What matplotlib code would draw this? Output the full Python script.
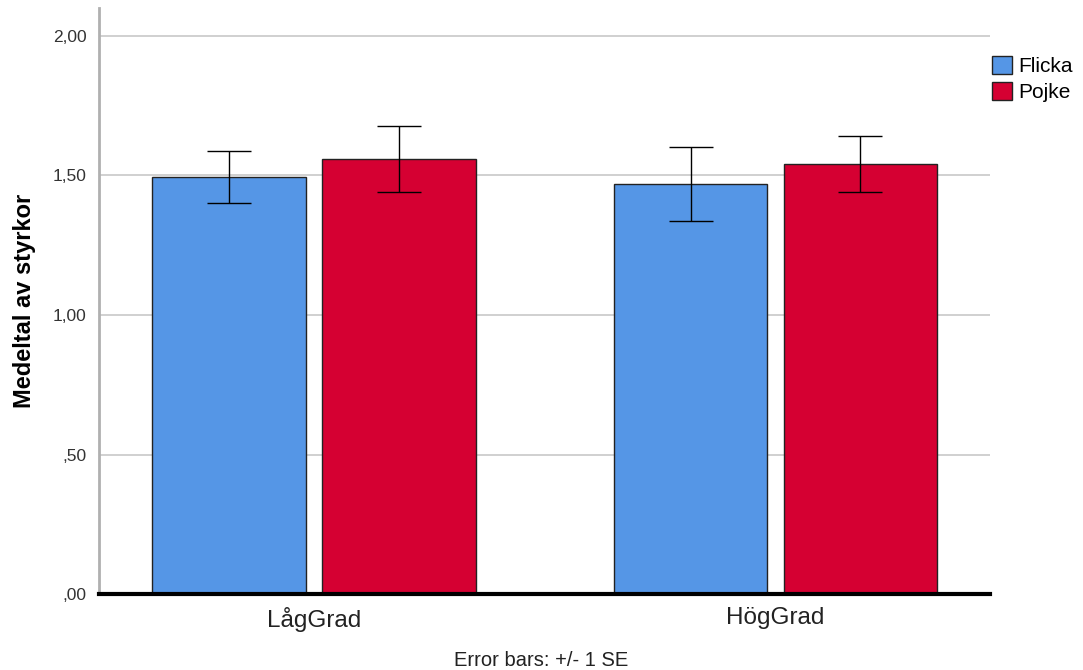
import numpy as np
import matplotlib.pyplot as plt

plt.rcParams['font.family'] = ['Liberation Sans', 'DejaVu Sans']

grupper = ["LågGrad", "HögGrad"]
kon = ["Flicka", "Pojke"]
medel_flicka = [1.495, 1.470]
medel_pojke = [1.559, 1.541]
se_flicka = [0.094, 0.133]
se_pojke = [0.120, 0.101]
yticks = [0.0, 0.5, 1.0, 1.5, 2.0]
ytick_labels = [",00", ",50", "1,00", "1,50", "2,00"]

farger = ["#5596e6", "#d50032"]

fig = plt.figure(figsize=(10.83, 6.7), dpi=100)
ax = fig.add_axes([0.0914, 0.1134, 0.8229, 0.8746])

x = np.arange(len(grupper))
bredd = 0.333
off = 0.184

ax.bar(x - off, medel_flicka, bredd, color=farger[0], edgecolor="#222222",
       linewidth=1, label=kon[0], zorder=2)
ax.bar(x + off, medel_pojke, bredd, color=farger[1], edgecolor="#222222",
       linewidth=1, label=kon[1], zorder=2)
ax.errorbar(x - off, medel_flicka, yerr=se_flicka, fmt="none", ecolor="black",
            elinewidth=1, capsize=16, capthick=1, zorder=3)
ax.errorbar(x + off, medel_pojke, yerr=se_pojke, fmt="none", ecolor="black",
            elinewidth=1, capsize=16, capthick=1, zorder=3)

ax.set_xlim(-0.465, 1.465)
ax.set_ylim(0, 2.1)
ax.set_yticks(yticks)
ax.set_yticklabels(ytick_labels, fontsize=12.5, color="#333333")
ax.set_xticks(x)
ax.set_xticklabels(grupper, fontsize=17.5, color="#222222")
ax.tick_params(axis="y", length=0, pad=9)
ax.tick_params(axis="x", length=0, pad=9)
ax.yaxis.grid(True, color="#c8c8c8", linewidth=1.2, zorder=0)
ax.set_axisbelow(True)

for s in ["top", "right"]:
    ax.spines[s].set_visible(False)
ax.spines["left"].set_color("#b0b0b0")
ax.spines["left"].set_linewidth(2)
ax.spines["bottom"].set_color("black")
ax.spines["bottom"].set_linewidth(3)
ax.spines["bottom"].set_zorder(4)

ax.set_ylabel("Medeltal av styrkor", fontsize=17, fontweight="bold", labelpad=12)

fig.legend(loc="upper left", bbox_to_anchor=(0.916, 0.916), frameon=False,
           fontsize=15, handlelength=0.95, handleheight=0.95, handletextpad=0.3,
           labelspacing=0.25, borderaxespad=0, borderpad=0)

fig.text(0.5, 0.006, "Error bars: +/- 1 SE", ha="center", fontsize=14.5,
         color="#222222")

fig.savefig("out.png", dpi=100)
